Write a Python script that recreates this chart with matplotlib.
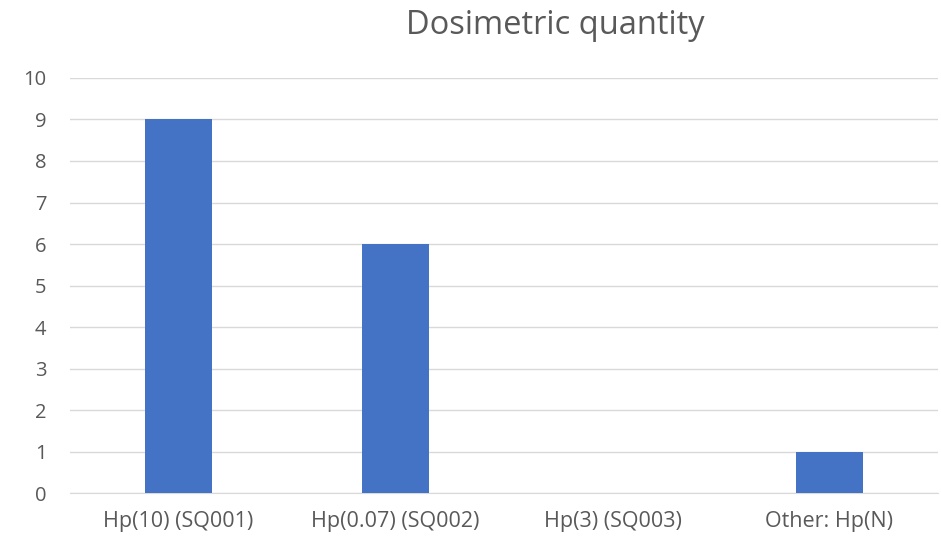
import numpy as np
from matplotlib import pyplot as plt

plt.rcParams['font.family'] = ['Open Sans', 'DejaVu Sans']

categories = ["Hp(10) (SQ001)", "Hp(0.07) (SQ002)", "Hp(3) (SQ003)", "Other: Hp(N)"]
counts = [9, 6, 0, 1]

fig = plt.figure(figsize=(9.41, 5.39), dpi=100)
ax = fig.add_axes([0.0744, 0.0853, 0.9224, 0.770])

x = np.arange(len(categories))
ax.bar(x, counts, width=0.31, color="#4472C4", zorder=3)

ax.set_xlim(-0.5, len(categories) - 0.5)
ax.set_ylim(0, 10)
ax.set_yticks(range(0, 11))
ax.set_xticks(x)
ax.set_xticklabels(categories)
ax.yaxis.grid(True, color="#D9D9D9", linewidth=1, zorder=0)
ax.tick_params(axis="both", length=0, colors="#595959")
ax.tick_params(axis="y", pad=17, labelsize=14.5)
ax.tick_params(axis="x", pad=13, labelsize=15.5)
for side in ["top", "right", "left"]:
    ax.spines[side].set_visible(False)
ax.spines["bottom"].set_color("#D9D9D9")

fig.text(0.59, 0.952, "Dosimetric quantity", ha="center", va="center",
         fontsize=23.5, color="#595959")

fig.savefig("out.png", dpi=100)
